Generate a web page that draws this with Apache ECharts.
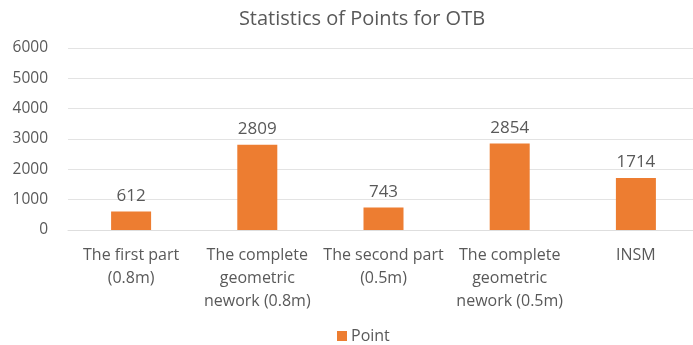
<!DOCTYPE html>
<html>
<head>
<meta charset="utf-8">
<script src="https://cdn.jsdelivr.net/npm/echarts@6/dist/echarts.min.js"></script>
<style>
    html, body { margin: 0; padding: 0; background: #fff; }
    #chart { width: 693px; height: 345px; }
</style>
</head>
<body>
<div id="chart"></div>
<script>
var categories = [
    'The first part\n(0.8m)',
    'The complete\ngeometric\nnework (0.8m)',
    'The second part\n(0.5m)',
    'The complete\ngeometric\nnework (0.5m)',
    'INSM'
];
var pointValues = [612, 2809, 743, 2854, 1714];
var seriesName = 'Point';

var textGray = '#595959';
var fontFam = '"Open Sans", "Noto Sans", sans-serif';

var myChart = echarts.init(document.getElementById('chart'));
var option = {
    animation: false,
    textStyle: { fontFamily: fontFam },
    title: {
        text: 'Statistics of Points for OTB',
        left: 357,
        textAlign: 'center',
        top: 4,
        textStyle: {
            fontFamily: fontFam,
            fontSize: 20,
            fontWeight: 'normal',
            color: textGray
        }
    },
    legend: {
        data: [seriesName],
        left: 332,
        top: 323,
        itemWidth: 10,
        itemHeight: 10,
        itemGap: 6,
        icon: 'rect',
        textStyle: { fontFamily: fontFam, fontSize: 16, color: textGray, padding: [0, 0, 0, -1] }
    },
    grid: {
        left: 68,
        top: 48,
        width: 631,
        height: 182,
        containLabel: false,
        outerBoundsMode: 'none'
    },
    xAxis: {
        type: 'category',
        data: categories,
        axisLine: { show: true, lineStyle: { color: '#dedede' } },
        axisTick: { show: false },
        axisLabel: {
            interval: 0,
            margin: 14,
            fontFamily: fontFam,
            fontSize: 16,
            lineHeight: 23,
            color: textGray
        }
    },
    yAxis: {
        type: 'value',
        min: 0,
        max: 6000,
        interval: 1000,
        axisLine: { show: false },
        axisTick: { show: false },
        axisLabel: {
            margin: 20,
            fontFamily: fontFam,
            fontSize: 15.5,
            color: textGray,
            formatter: function (v) { return String(v); }
        },
        splitLine: { lineStyle: { color: '#e3e3e3', width: 1 } }
    },
    series: [{
        name: seriesName,
        type: 'bar',
        data: pointValues,
        barWidth: 40,
        itemStyle: { color: '#ED7D31' },
        label: {
            show: true,
            position: 'top',
            distance: 7,
            fontFamily: fontFam,
            fontSize: 17,
            color: textGray
        }
    }]
};
myChart.setOption(option);
</script>
</body>
</html>
